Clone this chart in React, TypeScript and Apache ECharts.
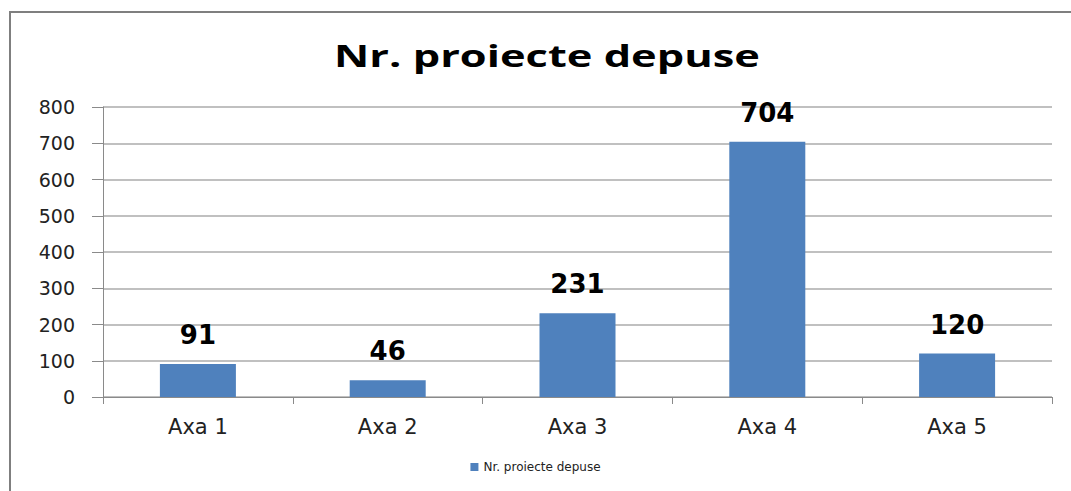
import React, { useEffect, useRef } from "react";
import * as echarts from "echarts";

const categories = ["Axa 1", "Axa 2", "Axa 3", "Axa 4", "Axa 5"];
const values = [91, 46, 231, 704, 120];
const seriesName = "Nr. proiecte depuse";
const titleText = "Nr. proiecte depuse";

export default function App() {
  const ref = useRef<HTMLDivElement>(null);
  useEffect(() => {
    if (!ref.current) return;
    const chart = echarts.init(ref.current, undefined, { renderer: "svg" });
    chart.setOption({
      animation: false,
      backgroundColor: "#ffffff",
      graphic: [
        {
          type: "rect",
          shape: { x: 10, y: 12, width: 1200, height: 700 },
          style: { fill: "none", stroke: "#7f7f7f", lineWidth: 2 },
          silent: true,
        },
        {
          type: "text",
          x: 547,
          y: 55,
          scaleX: 1.4,
          style: {
            text: titleText,
            fontFamily: "Open Sans",
            fontWeight: "bold",
            fontSize: 31,
            fill: "#000000",
            align: "center",
            verticalAlign: "middle",
          },
          silent: true,
        },
      ],
      legend: {
        bottom: 13,
        left: "center",
        itemWidth: 8,
        itemHeight: 8,
        itemGap: 6,
        icon: "rect",
        textStyle: {
          fontFamily: "DejaVu Sans",
          fontSize: 12,
          color: "#222",
        },
        data: [seriesName],
      },
      grid: { left: 103, right: 19, top: 107, bottom: 94 },
      xAxis: {
        type: "category",
        data: categories,
        axisLine: { lineStyle: { color: "#8a8a8a", width: 1 } },
        axisTick: { show: true, length: 7, lineStyle: { color: "#8a8a8a" } },
        axisLabel: {
          fontFamily: "DejaVu Sans",
          fontSize: 21,
          color: "#222",
          margin: 19,
        },
      },
      yAxis: {
        type: "value",
        min: 0,
        max: 800,
        interval: 100,
        axisLine: { show: true, lineStyle: { color: "#8a8a8a", width: 1 } },
        axisTick: { show: true, inside: false, length: 11, lineStyle: { color: "#8a8a8a" } },
        splitLine: { lineStyle: { color: "#c0c0c0", width: 2 } },
        axisLabel: {
          fontFamily: "DejaVu Sans",
          fontSize: 19,
          color: "#222",
          margin: 28,
        },
      },
      series: [
        {
          name: seriesName,
          type: "bar",
          data: values,
          barWidth: 76,
          itemStyle: { color: "#4f81bd" },
          label: {
            show: true,
            position: "top",
            distance: 16,
            fontFamily: "DejaVu Sans",
            fontWeight: "bold",
            fontSize: 26,
            color: "#000",
          },
        },
      ],
    });
    return () => chart.dispose();
  }, []);
  return (
    <div
      ref={ref}
      style={{ position: "fixed", left: 0, top: 0, width: 1071, height: 491 }}
    />
  );
}
